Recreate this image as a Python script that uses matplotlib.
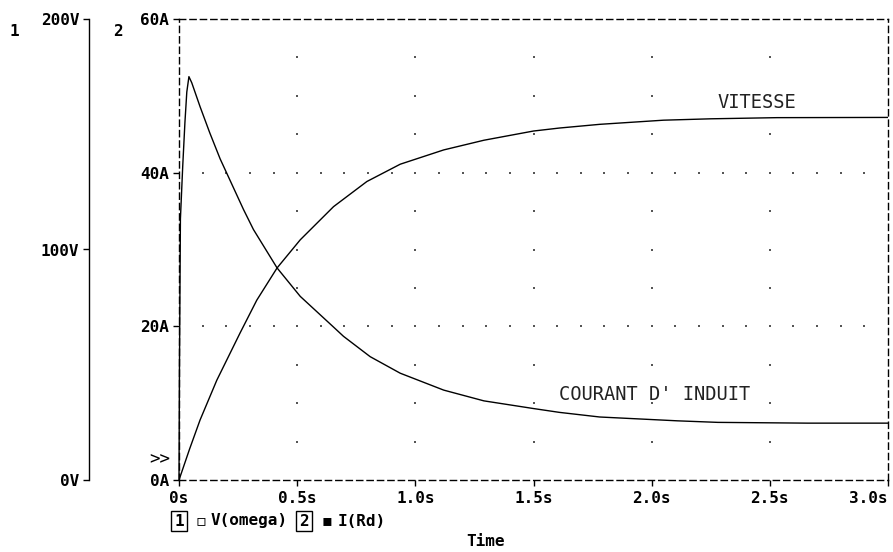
import numpy as np
import matplotlib
matplotlib.use("Agg")
import matplotlib.pyplot as plt

# ---- data ----
t_speed = [0, 0.045, 0.089, 0.16, 0.258, 0.329, 0.415, 0.513, 0.654, 0.795,
           0.936, 1.12, 1.29, 1.5, 1.61, 1.78, 2.05, 2.25, 2.53, 3.0]
v_omega = [0, 13.5, 26, 43.3, 63.7, 78, 92, 104.2, 118.6, 129.5,
           137.0, 143.2, 147.4, 151.4, 152.7, 154.3, 156.1, 156.7, 157.2, 157.3]

t_current = [0, 0.002, 0.006, 0.0157, 0.025, 0.033, 0.042, 0.054, 0.089, 0.13,
             0.174, 0.273, 0.315, 0.415, 0.513, 0.654, 0.696, 0.809, 0.936,
             1.12, 1.29, 1.5, 1.61, 1.78, 2.11, 2.28, 2.66, 3.0]
i_rd = [0, 15, 34, 40.8, 46.5, 50.5, 52.5, 51.7, 48.6, 45.2,
        41.8, 35.2, 32.6, 27.6, 23.9, 19.9, 18.7, 16.05, 13.9,
        11.7, 10.3, 9.3, 8.8, 8.2, 7.7, 7.5, 7.4, 7.4]

x_ticks = [0, 0.5, 1.0, 1.5, 2.0, 2.5, 3.0]
x_ticklabels = ["0s", "0.5s", "1.0s", "1.5s", "2.0s", "2.5s", "3.0s"]
a_ticks = [0, 20, 40, 60]
a_ticklabels = ["0A", "20A", "40A", "60A"]
v_ticks = [0, 100, 200]
v_ticklabels = ["0V", "100V", "200V"]

MONO = "DejaVu Sans Mono"
FS = 11.5

W, H = 893, 552
fig = plt.figure(figsize=(W / 100, H / 100), dpi=100)
fig.patch.set_facecolor("white")

x0, x1 = 179, 888
y0, y1 = 480, 19
rect = [x0 / W, (H - y0) / H, (x1 - x0) / W, (y0 - y1) / H]

# main (current) axes
ax = fig.add_axes(rect)
ax.set_xlim(0, 3)
ax.set_ylim(0, 60)
for s in ax.spines.values():
    s.set_linestyle((0, (4.5, 3)))
    s.set_linewidth(1.0)
    s.set_color("black")
ax.set_xticks(x_ticks)
ax.set_xticklabels(x_ticklabels, fontfamily=MONO, fontweight="bold", fontsize=FS)
ax.get_xticklabels()[-1].set_horizontalalignment("right")
ax.set_yticks(a_ticks)
ax.set_yticklabels(a_ticklabels, fontfamily=MONO, fontweight="bold", fontsize=FS)
ax.tick_params(direction="out", length=4, width=1, pad=3)
ax.tick_params(axis="x", pad=4)

# dotted grid (dots every 0.1 s on the 20A/40A rows, every 5 A on the 0.5 s columns)
row_vals = [20, 40]
row_t = np.arange(0.1, 2.95, 0.1)
col_t = [0.5, 1.0, 1.5, 2.0, 2.5]
col_vals = np.arange(5, 56, 5)
gx = [t for r in row_vals for t in row_t] + [c for c in col_t for v in col_vals]
gy = [r for r in row_vals for t in row_t] + [v for c in col_t for v in col_vals]
ax.scatter(gx, gy, s=1.2, marker="s", color="#555555", linewidths=0, zorder=1)

ax.plot(t_current, i_rd, color="black", lw=1.0, zorder=3, clip_on=False)

# voltage axes (speed) with spine off to the left
axv = fig.add_axes(rect)
axv.patch.set_alpha(0)
axv.set_xlim(0, 3)
axv.set_ylim(0, 200)
for k in ["top", "right", "bottom"]:
    axv.spines[k].set_visible(False)
axv.spines["left"].set_position(("axes", (89 - x0) / (x1 - x0)))
axv.spines["left"].set_linewidth(1.0)
axv.set_xticks([])
axv.set_yticks(v_ticks)
axv.set_yticklabels(v_ticklabels, fontfamily=MONO, fontweight="bold", fontsize=FS)
axv.tick_params(direction="out", length=4, width=1, pad=3)
axv.plot(t_speed, v_omega, color="black", lw=1.0, zorder=3)

# annotations
ax.text(2.28, 49.1, "VITESSE", fontsize=13.5, fontfamily=MONO,
        color="#222222", va="center", ha="left")
ax.text(1.61, 11.1, "COURANT D' INDUIT", fontsize=13.5, fontfamily=MONO,
        color="#222222", va="center", ha="left")
ax.text(-0.012, 0.045, ">>", transform=ax.transAxes, ha="right", va="center",
        fontfamily=MONO, fontsize=FS + 1)

# axis numbers
fig.text(14 / W, 1 - 31 / H, "1", fontfamily=MONO, fontweight="bold", fontsize=FS,
         ha="center", va="center")
fig.text(118 / W, 1 - 31 / H, "2", fontfamily=MONO, fontweight="bold", fontsize=FS,
         ha="center", va="center")

# legend line
ly = 1 - 521 / H
box = dict(boxstyle="square,pad=0.18", fc="white", ec="black", lw=1)
fig.text(179 / W, ly, "1", fontfamily=MONO, fontweight="bold", fontsize=FS,
         ha="center", va="center", bbox=box)
fig.text(201 / W, ly, "\u25ab", fontfamily="DejaVu Sans", fontsize=FS,
         ha="center", va="center")
fig.text(211 / W, ly, "V(omega)", fontfamily=MONO, fontweight="bold", fontsize=FS,
         ha="left", va="center")
fig.text(304 / W, ly, "2", fontfamily=MONO, fontweight="bold", fontsize=FS,
         ha="center", va="center", bbox=box)
fig.text(327 / W, ly, "\u25aa", fontfamily="DejaVu Sans", fontsize=FS,
         ha="center", va="center")
fig.text(338 / W, ly, "I(Rd)", fontfamily=MONO, fontweight="bold", fontsize=FS,
         ha="left", va="center")

fig.text(486 / W, 1 - 541 / H, "Time", fontfamily=MONO, fontweight="bold",
         fontsize=FS, ha="center", va="center")

fig.savefig("out.png", dpi=100, facecolor="white")
